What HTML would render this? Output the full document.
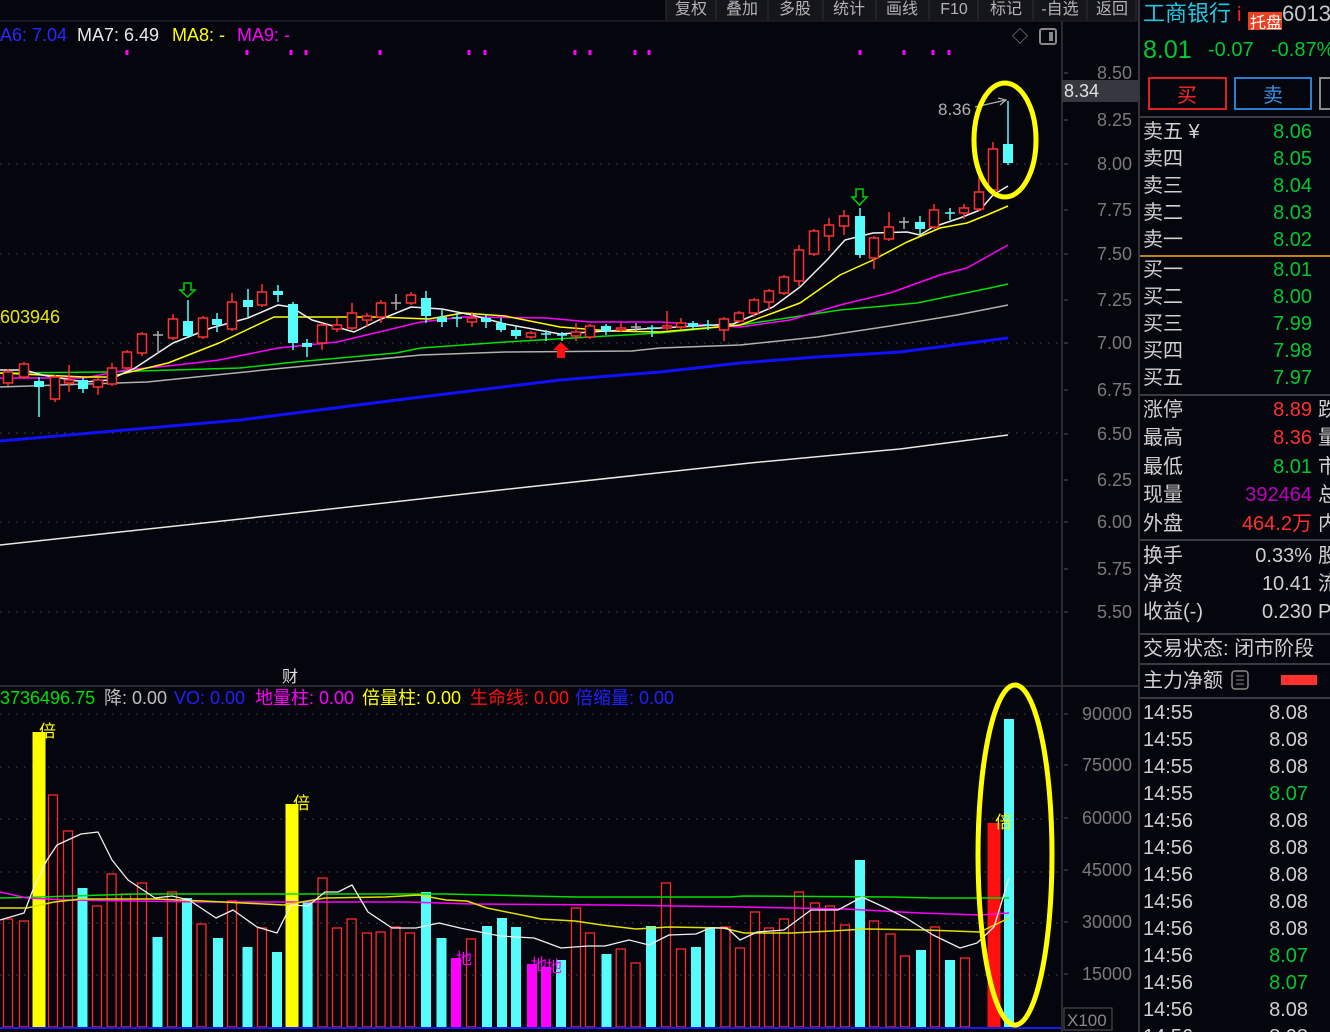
<!DOCTYPE html>
<html><head><meta charset="utf-8"><style>
html,body{margin:0;padding:0;background:#05050d;overflow:hidden}
svg{display:block}
text{font-family:"Liberation Sans","Noto Sans CJK SC",sans-serif}
</style></head><body>
<svg id="s" width="1330" height="1032" viewBox="0 0 1330 1032" xmlns="http://www.w3.org/2000/svg">
<rect width="1330" height="1032" fill="#05050d"/>
<g id="grid"></g>
<g id="main"></g>
<!-- toolbar -->
<rect x="666" y="0" width="472" height="20" fill="#15151c"/>
<line x1="0" y1="21" x2="1138" y2="21" stroke="#2a2a30"/>
<g font-size="16" fill="#b4b4b4" text-anchor="middle">
<text x="691" y="14">复权</text><text x="742" y="14">叠加</text><text x="795" y="14">多股</text><text x="849" y="14">统计</text><text x="902" y="14">画线</text><text x="954" y="14">F10</text><text x="1006" y="14">标记</text><text x="1060" y="14">-自选</text><text x="1112" y="14">返回</text>
</g>
<g stroke="#2e2e34"><line x1="666" y1="0" x2="666" y2="20"/><line x1="716" y1="0" x2="716" y2="20"/><line x1="768" y1="0" x2="768" y2="20"/><line x1="823" y1="0" x2="823" y2="20"/><line x1="876" y1="0" x2="876" y2="20"/><line x1="929" y1="0" x2="929" y2="20"/><line x1="978" y1="0" x2="978" y2="20"/><line x1="1033" y1="0" x2="1033" y2="20"/><line x1="1087" y1="0" x2="1087" y2="20"/><line x1="1136" y1="0" x2="1136" y2="20"/></g>
<!-- legend -->
<g font-size="18"><text x="0" y="41" fill="#2828ff">A6: 7.04</text><text x="77" y="41" fill="#e8e8e8">MA7: 6.49</text><text x="172" y="41" fill="#ffff00">MA8: -</text><text x="237" y="41" fill="#ff00ff">MA9: -</text></g>
<text x="1020" y="42" font-size="16" fill="#888" text-anchor="middle">◇</text>
<rect x="1040" y="29" width="16" height="15" rx="2" fill="none" stroke="#888" stroke-width="2"/><rect x="1049" y="32" width="4" height="9" fill="#888"/>
<text x="0" y="323" font-size="18" fill="#e8e800">603946</text>
<text x="282" y="682" font-size="16" fill="#e0e0e0">财</text>
<line x1="280" y1="686" x2="302" y2="686" stroke="#5050ff" stroke-width="2"/>
<text x="938" y="115" font-size="17" fill="#b0b0b0">8.36</text>
<path d="M975,107 L1006,100 M998,98 L1006,100 L1000,105" stroke="#b0b0b0" fill="none" stroke-width="1.2"/>
<path d="M557,358 L565,358 L565,350 L569,350 L561,342 L553,350 L557,350Z" fill="#ff1010"/>
<path d="M184,283 L191,283 L191,290 L195,290 L187.5,297 L180,290 L184,290Z" fill="none" stroke="#00d000" stroke-width="1.5"/>
<path d="M856,189 L863,189 L863,197 L867,197 L859.5,205 L852,197 L856,197Z" fill="none" stroke="#00d000" stroke-width="1.5"/>
<ellipse cx="1005" cy="140" rx="31" ry="57" fill="none" stroke="#ffff00" stroke-width="5"/>
<!-- volume legend -->
<line x1="0" y1="686" x2="1138" y2="686" stroke="#2a2a30" stroke-width="2"/>
<g font-size="18"><text x="0" y="704" fill="#00e000">3736496.75</text><text x="104" y="704" fill="#c0c0c0">降: 0.00</text><text x="174" y="704" fill="#2020ff">VO: 0.00</text><text x="255" y="704" fill="#ff00ff">地量柱: 0.00</text><text x="362" y="704" fill="#ffff00">倍量柱: 0.00</text><text x="470" y="704" fill="#ff1010">生命线: 0.00</text><text x="575" y="704" fill="#2020ff">倍缩量: 0.00</text></g>
<g id="vol"></g>
<g font-size="17" fill="#ffff00"><text x="39" y="737">倍</text><text x="293" y="809">倍</text><text x="995" y="828">倍</text></g>
<g font-size="16" fill="#ff00ff"><text x="456" y="964">地</text><text x="531" y="970">地</text><text x="546" y="972">地</text></g>
<ellipse cx="1015" cy="855" rx="37" ry="170" fill="none" stroke="#ffff00" stroke-width="5"/>
<!-- axis -->
<line x1="1062" y1="21" x2="1062" y2="1032" stroke="#2a2a30" stroke-width="2"/>
<line x1="1139" y1="0" x2="1139" y2="1032" stroke="#34343a" stroke-width="2"/>
<g id="axis" font-size="18" fill="#7a7a7a" text-anchor="end"></g>
<rect x="1062" y="80" width="76" height="22" fill="#35383e"/>
<text x="1064" y="97" font-size="18" fill="#e0e0e0">8.34</text>
<rect x="1064" y="1008" width="48" height="22" fill="none" stroke="#555"/>
<text x="1067" y="1026" font-size="17" fill="#888">X100</text>
<!-- right panel -->
<text x="1143" y="21" font-size="22" fill="#1ec8e0">工商银行</text>
<text x="1237" y="21" font-size="20" fill="#ff2020">i</text>
<rect x="1248" y="12" width="34" height="18" fill="#e84020"/>
<text x="1250" y="28" font-size="16" fill="#fff">托盘</text>
<text x="1282" y="21" font-size="22" fill="#c8c8c8">6013</text>
<text x="1143" y="58" font-size="25" fill="#00c832">8.01</text>
<text x="1208" y="56" font-size="20" fill="#00c832">-0.07</text>
<text x="1271" y="56" font-size="20" fill="#00c832">-0.87%</text>
<rect x="1149" y="78" width="77" height="31" fill="none" stroke="#e02020" stroke-width="2"/>
<text x="1187" y="102" font-size="20" fill="#ff2828" text-anchor="middle">买</text>
<rect x="1235" y="78" width="76" height="31" fill="none" stroke="#2a80d0" stroke-width="2"/>
<text x="1273" y="102" font-size="20" fill="#3a90e0" text-anchor="middle">卖</text>
<rect x="1320" y="78" width="16" height="31" fill="none" stroke="#888" stroke-width="2"/>
<g stroke="#3a3a40" stroke-width="2"><line x1="1140" y1="117" x2="1330" y2="117"/><line x1="1140" y1="395" x2="1330" y2="395"/><line x1="1140" y1="540" x2="1330" y2="540"/><line x1="1140" y1="634" x2="1330" y2="634"/><line x1="1140" y1="664" x2="1330" y2="664"/><line x1="1140" y1="698" x2="1330" y2="698"/></g>
<line x1="1140" y1="256" x2="1330" y2="256" stroke="#c08020" stroke-width="2"/>
<g id="panel" font-size="20"></g>
<rect x="1281" y="675" width="36" height="10" fill="#ff3030"/>
<rect x="1232" y="671" width="16" height="18" rx="3" fill="none" stroke="#888" stroke-width="1.5"/>
<g stroke="#888"><line x1="1236" y1="676" x2="1244" y2="676"/><line x1="1236" y1="680" x2="1244" y2="680"/><line x1="1236" y1="684" x2="1244" y2="684"/></g>
</svg>
<script>
var NS="http://www.w3.org/2000/svg";
function el(p,t,a,txt){var e=document.createElementNS(NS,t);for(var k in a)e.setAttribute(k,a[k]);if(txt!=null)e.textContent=txt;document.getElementById(p).appendChild(e);return e;}
[164,254,343,433,522,612].forEach(function(y){el("grid","line",{x1:0,y1:y,x2:1062,y2:y,stroke:"#3a3a44","stroke-dasharray":"2,6"});});
[714,767,819,872,923,975].forEach(function(y){el("grid","line",{x1:0,y1:y,x2:1062,y2:y,stroke:"#3a3a44","stroke-dasharray":"2,6"});});
[127,247,291,306,380,469,485,575,590,635,649,860,904,933,949].forEach(function(x){el("grid","rect",{x:x-1.5,y:50,width:3,height:5,fill:"#ff00ff"});});
var pl=[["8.50",73],["8.25",120],["8.00",164],["7.75",210],["7.50",254],["7.25",300],["7.00",343],["6.75",390],["6.50",434],["6.25",480],["6.00",522],["5.75",569],["5.50",612]];
pl.forEach(function(p){el("axis","text",{x:1132,y:p[1]+6},p[0]);el("axis","line",{x1:1064,y1:p[1],x2:1068,y2:p[1],stroke:"#555"});});
[["90000",714],["75000",765],["60000",818],["45000",870],["30000",922],["15000",974]].forEach(function(p){el("axis","text",{x:1132,y:p[1]+6},p[0]);el("axis","line",{x1:1064,y1:p[1],x2:1068,y2:p[1],stroke:"#555"});});
function line(g,pts,c,w){el(g,"polyline",{points:pts.map(function(p){return p.join(",")}).join(" "),fill:"none",stroke:c,"stroke-width":w||1.5,"stroke-linejoin":"round"});}
line("main",[[0,545],[250,518],[500,490],[750,463],[900,449],[1008,435]],"#e8e8e8",1.5);
line("main",[[0,441],[240,420],[413,398],[560,380],[660,372],[740,363],[817,357],[900,352],[1008,338]],"#1010ff",3);
line("main",[[0,387],[147,382],[274,369],[421,355],[505,352],[632,351],[660,348],[740,345],[817,337],[890,326],[957,315],[1008,305]],"#b0b0b0",1.5);
line("main",[[0,373],[105,372],[240,368],[295,362],[396,353],[421,348],[505,342],[590,337],[660,333],[740,325],[840,310],[917,303],[990,288],[1008,284]],"#00e000",1.5);
line("main",[[0,378],[84,378],[126,370],[177,365],[219,360],[278,348],[337,342],[379,332],[421,322],[463,317],[547,318],[590,322],[660,322],[740,327],[790,320],[840,305],[890,293],[940,275],[967,268],[1008,245]],"#ff00ff",1.5);
line("main",[[0,373],[84,377],[109,377],[168,363],[219,343],[274,317],[379,317],[429,319],[463,313],[505,316],[560,327],[610,331],[660,332],[740,325],[773,313],[800,303],[840,275],[873,260],[907,242],[940,228],[967,223],[987,215],[1008,206]],"#ffff00",1.5);
line("main",[[0,370],[25,370],[42,375],[84,382],[109,380],[135,368],[173,343],[211,328],[248,318],[278,305],[291,307],[312,320],[354,332],[379,320],[411,307],[442,309],[472,315],[505,324],[560,334],[590,332],[660,328],[733,324],[773,307],[800,287],[827,260],[845,240],[873,233],[907,232],[920,235],[933,227],[960,218],[980,210],[993,195],[1008,186]],"#f0f0f0",1.5);
var C="8 r 372 383 369 386|24 r 364 377 362 379|39 c 381 387 377 417|55 r 377 399 375 402|69 r 380 383 365 392|83 c 380 389 378 393|98 r 380 387 378 395|112 r 368 384 363 386|127 r 352 368 350 370|142 r 334 353 332 356|158 g 335 335 331 353|173 r 319 338 314 340|188 c 321 336 300 338|203 r 318 337 316 339|217 c 319 325 313 332|232 r 302 329 293 331|248 c 300 307 289 317|262 r 292 305 284 307|278 c 291 295 285 302|293 c 304 343 302 350|307 c 343 347 339 357|322 r 325 343 323 350|337 r 325 329 318 332|352 r 313 328 303 330|367 r 316 320 313 327|381 r 303 317 300 323|396 g 303 303 294 310|411 r 295 303 292 305|426 c 298 316 291 323|442 c 317 322 310 327|457 x 318 318 313 327|472 r 318 322 312 327|486 c 318 322 314 328|501 c 323 330 318 332|516 c 330 336 326 339|531 r 333 337 331 339|546 x 334 334 330 341|562 x 335 335 332 341|576 r 332 336 323 341|590 r 326 337 324 339|606 c 326 331 324 335|621 r 328 330 323 332|636 g 327 327 323 331|652 x 328 328 325 337|667 r 326 328 311 330|681 r 323 327 318 329|693 c 323 327 321 329|708 x 325 325 320 330|724 r 319 330 317 341|739 r 313 321 311 323|754 r 300 313 298 317|769 r 291 302 289 310|784 r 277 293 275 295|799 r 250 281 245 286|814 r 231 254 229 256|829 r 225 236 218 251|844 r 216 226 210 235|860 c 216 255 208 258|874 r 238 258 236 269|889 r 227 239 212 241|904 g 222 222 217 229|920 c 222 229 216 235|934 r 210 227 204 229|950 x 213 213 208 220|964 r 208 213 204 219|979 r 192 209 177 211|993 r 149 190 142 192|1008 c 144 163 101 165";
C.split("|").forEach(function(s){var a=s.split(" "),x=+a[0],t=a[1],y1=+a[2],y2=+a[3],h=+a[4],l=+a[5];
var col=t=="r"?"#ff3232":t=="g"?"#b0b0b0":"#54fcfc";
el("main","line",{x1:x,y1:h,x2:x,y2:l,stroke:col,"stroke-width":1.5});
if(t=="r")el("main","rect",{x:x-4.5,y:y1,width:9,height:Math.max(y2-y1,1),fill:"#05050d",stroke:col,"stroke-width":1.5});
else if(t=="c")el("main","rect",{x:x-5,y:y1,width:10,height:Math.max(y2-y1,2),fill:col});
else el("main","line",{x1:x-5,y1:y1,x2:x+5,y2:y1,stroke:col,"stroke-width":1.5});
});
var V="8 r 919|24 r 921|39 y 732|53 r 795|68 r 831|82.5 c 888|97 r 906|111.6 r 874|126 r 894|142 r 883|157.5 c 937|172 r 892|187 c 898|201.5 r 924|218 c 938|232 r 901|247.5 c 947|262 r 928|277 c 952|292 y 804|307.6 c 902|322.5 r 878|337 r 928|351.6 r 919|367 r 933|380.6 r 932|395.5 r 927|410 r 933|426 c 892|441.5 c 938|456 m 958|471 r 939|487 c 926|502 c 918|516 c 927|532 m 964|546 m 967|561 c 960|576 r 908|590 r 933|606.5 c 954|620.7 r 949|635.6 r 963|651 c 926|666 r 883|681 r 949|696 c 947|710 c 927|725.5 r 927|740 r 948|755 r 912|769 r 928|784 r 919|799 r 892|815 r 903|830 r 906|845 r 925|860 c 860|874 r 921|890.5 r 934|905 r 956|921 c 950|935 r 927|950 c 960|965 r 958|994 f 823|1009 c 719";
V.split("|").forEach(function(s){var a=s.split(" "),x=+a[0],t=a[1],y=+a[2],b=1027;
if(t=="r")el("vol","rect",{x:x-4.5,y:y,width:9,height:b-y,fill:"none",stroke:"#ff2828","stroke-width":1.3});
else{var col={c:"#54fcfc",y:"#ffff00",m:"#ff00ff",f:"#ff1010"}[t];var w=(t=="y"||t=="f")?13:10;el("vol","rect",{x:x-w/2,y:y,width:w,height:b-y,fill:col});}
});
el("vol","line",{x1:0,y1:1028,x2:1062,y2:1028,stroke:"#1818ff","stroke-width":2});
line("vol",[[0,898],[41,897],[135,894],[446,894],[575,897],[730,897],[744,896],[892,897],[933,898],[1009,898]],"#00e000",1.5);
line("vol",[[0,892],[27,898],[68,900],[203,902],[406,902],[473,904],[608,905],[744,907],[845,909],[920,913],[980,915],[1009,913]],"#ff00ff",1.5);
line("vol",[[0,908],[27,908],[54,902],[81,899],[155,899],[203,901],[284,905],[325,898],[385,897],[419,895],[446,900],[467,901],[487,908],[541,919],[575,921],[602,925],[636,929],[669,927],[723,928],[744,933],[791,933],[832,931],[865,929],[926,930],[980,932],[1009,918]],"#e0e000",1.5);
line("vol",[[0,920],[24,913],[34,887],[47,860],[57,845],[81,834],[98,832],[112,860],[128,880],[155,898],[172,896],[189,900],[216,918],[233,910],[257,927],[277,933],[291,905],[308,906],[325,892],[338,892],[352,885],[368,912],[392,928],[416,928],[439,923],[460,928],[500,936],[534,938],[561,948],[588,946],[605,946],[629,940],[649,945],[669,935],[696,934],[710,928],[727,928],[740,940],[757,932],[784,930],[811,910],[838,910],[862,897],[886,908],[906,918],[933,935],[960,948],[977,943],[994,927],[1009,878]],"#f0f0f0",1.3);
var W="#d0d0d0",G="#00c832",R="#ff3030";
function pt(x,y,t,c,anc){el("panel","text",{x:x,y:y+7,fill:c,"text-anchor":anc||"start"},t);}
[["卖五 ¥","8.06"],["卖四","8.05"],["卖三","8.04"],["卖二","8.03"],["卖一","8.02"]].forEach(function(r,i){var y=131+27*i;pt(1143,y,r[0],W);pt(1312,y,r[1],G,"end");});
[["买一","8.01"],["买二","8.00"],["买三","7.99"],["买四","7.98"],["买五","7.97"]].forEach(function(r,i){var y=269+27*i;pt(1143,y,r[0],W);pt(1312,y,r[1],G,"end");});
[["涨停","8.89",R,"跌",409],["最高","8.36",R,"量",437],["最低","8.01",G,"市",466],["现量","392464","#c000c0","总",494],["外盘","464.2万",R,"内",523],["换手","0.33%",W,"股",555],["净资","10.41",W,"流",583],["收益(-)","0.230",W,"P",611]].forEach(function(r){pt(1143,r[4],r[0],W);pt(1312,r[4],r[1],r[2],"end");pt(1318,r[4],r[3],W);});
pt(1143,648,"交易状态: 闭市阶段",W);
pt(1143,680,"主力净额",W);
["8.08","8.08","8.08","8.07","8.08","8.08","8.08","8.08","8.08","8.07","8.07","8.08","8.08"].forEach(function(p,i){var y=712+27*i;pt(1143,y,i<4?"14:55":"14:56",W);pt(1308,y,p,p=="8.07"?G:W,"end");});
</script>
</body></html>
